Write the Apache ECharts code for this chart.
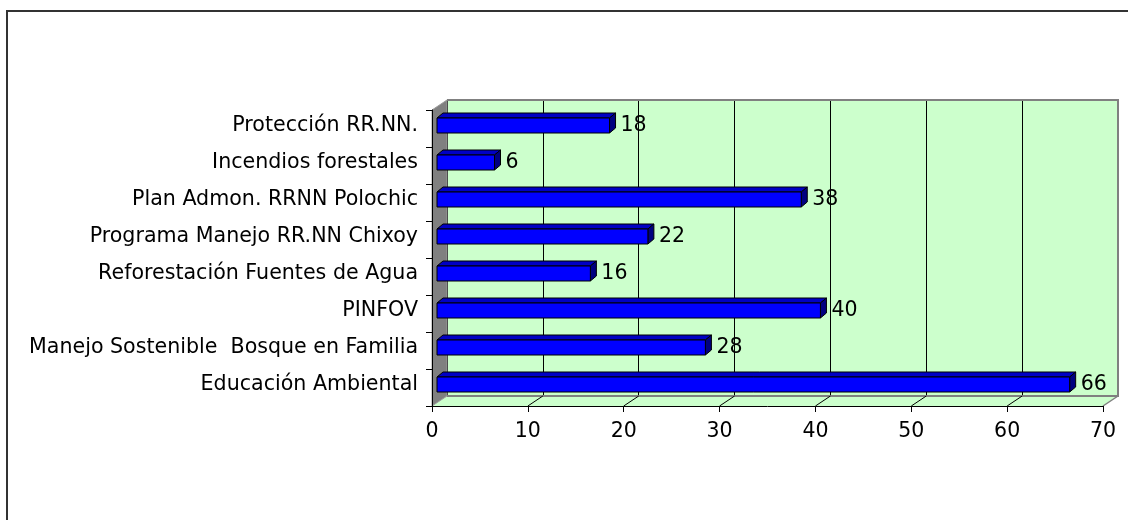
<!DOCTYPE html>
<html>
<head>
<meta charset="utf-8">
<script src="https://cdn.jsdelivr.net/npm/echarts@6/dist/echarts.min.js"></script>
<style>
  html, body { margin: 0; padding: 0; background: #fff; }
  #chart { width: 1128px; height: 520px; }
</style>
</head>
<body>
<div id="chart"></div>
<script>
// Programs, listed bottom to top as the category axis draws them
const categories = [
  'Educación Ambiental',
  'Manejo Sostenible  Bosque en Familia',
  'PINFOV',
  'Reforestación Fuentes de Agua',
  'Programa Manejo RR.NN Chixoy',
  'Plan Admon. RRNN Polochic',
  'Incendios forestales',
  'Protección RR.NN.'
];
const values = [66, 28, 40, 16, 22, 38, 6, 18];
const xMin = 0;
const xMax = 70;
const xStep = 10;

// Layout of the pseudo-3D box: front plane, bar plane and back wall
const FONT = '"DejaVu Sans", "Liberation Sans", Arial, sans-serif';
const FRONT = { left: 432, top: 110, width: 671, height: 296 };
const DEPTH = { x: 15, y: 10 };
const BAR_SHIFT = { x: 5, y: 3 };
const BAR_H = 15;
const FACE = { dx: 6, dy: 5 };
const WALL = '#CCFFCC';
const SIDE_WALL = '#808080';
const EDGE = '#808080';

const chart = echarts.init(document.getElementById('chart'), null, { renderer: 'canvas' });

function renderBar(params, api) {
  const v = api.value(0);
  const cat = api.value(1);
  const p0 = api.coord([0, cat]);
  const p1 = api.coord([v, cat]);
  const x0 = p0[0], x1 = p1[0], yc = p1[1];
  const yt = yc - BAR_H / 2, yb = yc + BAR_H / 2;
  const line = { stroke: '#000', lineWidth: 1 };
  return {
    type: 'group',
    children: [
      { type: 'polygon', shape: { points: [[x0, yt], [x0 + FACE.dx, yt - FACE.dy], [x1 + FACE.dx, yt - FACE.dy], [x1, yt]] },
        style: Object.assign({ fill: '#0000C4' }, line) },
      { type: 'polygon', shape: { points: [[x1, yt], [x1 + FACE.dx, yt - FACE.dy], [x1 + FACE.dx, yb - FACE.dy], [x1, yb]] },
        style: Object.assign({ fill: '#000080' }, line) },
      { type: 'rect', shape: { x: x0, y: yt, width: x1 - x0, height: BAR_H },
        style: Object.assign({ fill: '#0000FF' }, line) },
      { type: 'text', x: x1 + FACE.dx + 5, y: yc,
        style: { text: String(v), fill: '#000', fontSize: 20.5, fontFamily: FONT, align: 'left', verticalAlign: 'middle' } }
    ]
  };
}

const option = {
  backgroundColor: '#fff',
  animation: false,
  grid: [
    // back wall
    { left: FRONT.left + DEPTH.x, top: FRONT.top - DEPTH.y, width: FRONT.width, height: FRONT.height,
      show: true, backgroundColor: WALL, borderWidth: 0, containLabel: false, outerBoundsMode: 'none', z: 0 },
    // bar plane
    { left: FRONT.left + BAR_SHIFT.x, top: FRONT.top - BAR_SHIFT.y, width: FRONT.width, height: FRONT.height,
      containLabel: false, outerBoundsMode: 'none' },
    // front plane with the visible axes
    { left: FRONT.left, top: FRONT.top, width: FRONT.width, height: FRONT.height,
      containLabel: false, outerBoundsMode: 'none' }
  ],
  xAxis: [
    { gridIndex: 0, type: 'value', min: xMin, max: xMax, interval: xStep, z: 1,
      axisLine: { show: false }, axisTick: { show: false }, axisLabel: { show: false },
      splitLine: { show: true, lineStyle: { color: '#000', width: 1 } } },
    { gridIndex: 1, type: 'value', min: xMin, max: xMax, interval: xStep, show: false },
    { gridIndex: 2, type: 'value', min: xMin, max: xMax, interval: xStep, z: 6,
      axisLine: { show: true, lineStyle: { color: '#000', width: 1 } },
      axisTick: { show: true, length: 6, lineStyle: { color: '#000' } },
      splitLine: { show: false },
      axisLabel: { show: true, color: '#000', fontSize: 20.5, fontFamily: FONT, margin: 15,
        showMinLabel: true, showMaxLabel: true } }
  ],
  yAxis: [
    { gridIndex: 0, type: 'value', show: false },
    { gridIndex: 1, type: 'category', data: categories, z: 6,
      axisLine: { show: false }, axisTick: { show: false }, splitLine: { show: false },
      axisLabel: { show: true, color: '#000', fontSize: 20.6, fontFamily: FONT,
        margin: 19, interval: 0 } },
    { gridIndex: 2, type: 'category', data: categories, z: 6,
      axisLine: { show: true, lineStyle: { color: '#000', width: 1 } },
      axisTick: { show: true, length: 6, lineStyle: { color: '#000' } },
      axisLabel: { show: false }, splitLine: { show: false } }
  ],
  series: [
    { type: 'custom', xAxisIndex: 1, yAxisIndex: 1, z: 4,
      encode: { x: 0, y: 1 },
      data: values.map((v, i) => [v, i]),
      renderItem: renderBar, clip: false }
  ]
};

chart.setOption(option);

// Side wall, floor and outer frame, placed from the axes' own pixel positions
const fl = FRONT.left, ft = FRONT.top, fb = FRONT.top + FRONT.height;
const fr = chart.convertToPixel({ xAxisIndex: 2 }, xMax);
const graphics = [
  { type: 'polygon', z: 2, shape: { points: [[fl, fb], [fl + DEPTH.x, fb - DEPTH.y], [fr + DEPTH.x, fb - DEPTH.y], [fr, fb]] },
    style: { fill: WALL } },
  { type: 'polygon', z: 2, shape: { points: [[fl, ft], [fl + DEPTH.x, ft - DEPTH.y], [fl + DEPTH.x, fb - DEPTH.y], [fl, fb]] },
    style: { fill: SIDE_WALL, stroke: '#9a9a9a', lineWidth: 1 } },
  { type: 'polyline', z: 3, shape: { points: [[fl + DEPTH.x, ft - DEPTH.y], [fr + DEPTH.x, ft - DEPTH.y], [fr + DEPTH.x, fb - DEPTH.y], [fl + DEPTH.x, fb - DEPTH.y]] },
    style: { fill: null, stroke: EDGE, lineWidth: 2 } },
  { type: 'line', z: 3, shape: { x1: fr, y1: fb, x2: fr + DEPTH.x, y2: fb - DEPTH.y },
    style: { stroke: EDGE, lineWidth: 1.5 } },
  { type: 'rect', z: 10, shape: { x: 7, y: 11, width: 1300, height: 700 },
    style: { fill: null, stroke: '#333', lineWidth: 2 } }
];
for (let v = xMin + xStep; v < xMax; v += xStep) {
  const x = chart.convertToPixel({ xAxisIndex: 2 }, v);
  graphics.push({ type: 'line', z: 3, shape: { x1: x, y1: fb, x2: x + DEPTH.x, y2: fb - DEPTH.y },
    style: { stroke: '#000', lineWidth: 1 } });
}
chart.setOption({ graphic: graphics });
</script>
</body>
</html>
